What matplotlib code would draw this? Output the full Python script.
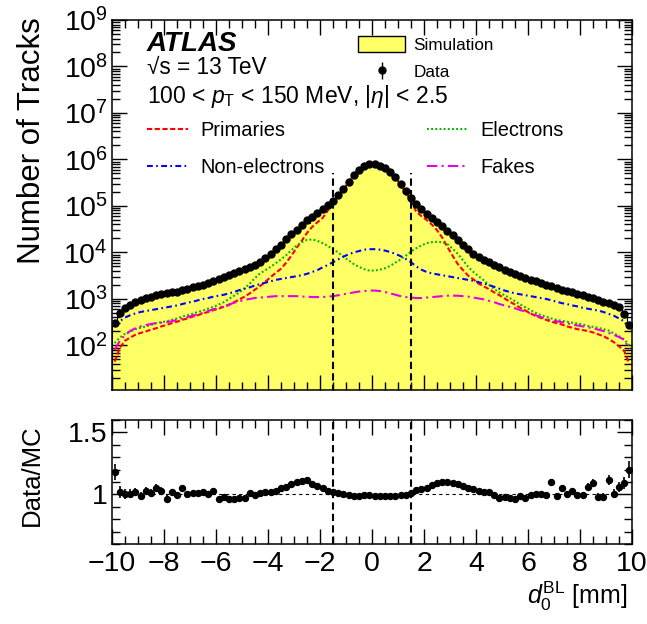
import numpy as np
import matplotlib
matplotlib.use('Agg')
import matplotlib.pyplot as plt
from matplotlib.patches import Patch
from matplotlib.ticker import MultipleLocator, LogLocator, NullFormatter, FuncFormatter

plt.rcParams['font.family'] = ['Liberation Sans', 'DejaVu Sans']
plt.rcParams['mathtext.fontset'] = 'custom'
plt.rcParams['mathtext.rm'] = 'Liberation Sans'
plt.rcParams['mathtext.it'] = 'Liberation Sans:italic'
plt.rcParams['mathtext.bf'] = 'Liberation Sans:bold'

# bins: 100 bins of 0.2 mm between -10 and 10
edges = np.linspace(-10, 10, 101)
centers = 0.5 * (edges[:-1] + edges[1:])

# log10(number of tracks) per bin
data_log = [2.48, 2.70, 2.80, 2.87, 2.93, 2.97, 3.01, 3.04, 3.08, 3.10,
            3.12, 3.14, 3.16, 3.19, 3.22, 3.25, 3.28, 3.31, 3.35, 3.39,
            3.43, 3.47, 3.51, 3.55, 3.60, 3.64, 3.68, 3.72, 3.79, 3.88,
            3.97, 4.07, 4.17, 4.28, 4.39, 4.48, 4.58, 4.69, 4.77, 4.85,
            4.93, 5.01, 5.11, 5.23, 5.37, 5.52, 5.67, 5.78, 5.86, 5.91,
            5.91, 5.87, 5.82, 5.74, 5.62, 5.47, 5.32, 5.17, 5.05, 4.93,
            4.83, 4.74, 4.65, 4.56, 4.47, 4.37, 4.27, 4.17, 4.07, 3.97,
            3.90, 3.84, 3.79, 3.74, 3.68, 3.62, 3.57, 3.53, 3.49, 3.45,
            3.41, 3.38, 3.35, 3.31, 3.27, 3.23, 3.20, 3.17, 3.14, 3.11,
            3.08, 3.04, 3.01, 2.97, 2.94, 2.91, 2.88, 2.82, 2.68, 2.45]

prim_log = [1.65, 1.95, 2.10, 2.17, 2.23, 2.27, 2.30, 2.34, 2.37, 2.41,
            2.44, 2.48, 2.51, 2.55, 2.58, 2.62, 2.65, 2.69, 2.72, 2.76,
            2.79, 2.83, 2.87, 2.93, 2.99, 3.05, 3.12, 3.20, 3.28, 3.37,
            3.47, 3.56, 3.65, 3.78, 3.93, 4.10, 4.25, 4.42, 4.55, 4.65,
            4.74, 4.90, 5.08, 5.22, 5.36, 5.51, 5.66, 5.77, 5.85, 5.90,
            5.90, 5.86, 5.81, 5.73, 5.61, 5.45, 5.29, 5.10, 4.88, 4.78,
            4.70, 4.60, 4.48, 4.32, 4.12, 3.93, 3.75, 3.62, 3.50, 3.42,
            3.33, 3.27, 3.21, 3.14, 3.08, 3.01, 2.94, 2.88, 2.81, 2.75,
            2.69, 2.63, 2.59, 2.55, 2.51, 2.48, 2.45, 2.41, 2.38, 2.35,
            2.33, 2.31, 2.28, 2.24, 2.20, 2.14, 2.07, 1.98, 1.88, 1.60]

elec_log = [2.05, 2.17, 2.25, 2.30, 2.35, 2.38, 2.41, 2.44, 2.48, 2.50,
            2.52, 2.55, 2.58, 2.62, 2.65, 2.68, 2.72, 2.75, 2.79, 2.83,
            2.88, 2.93, 3.00, 3.07, 3.14, 3.23, 3.33, 3.45, 3.55, 3.62,
            3.69, 3.77, 3.85, 3.94, 4.05, 4.15, 4.22, 4.27, 4.28, 4.25,
            4.20, 4.14, 4.07, 4.00, 3.91, 3.83, 3.75, 3.69, 3.64, 3.61,
            3.61, 3.63, 3.66, 3.71, 3.78, 3.85, 3.93, 4.02, 4.09, 4.15,
            4.20, 4.22, 4.23, 4.22, 4.18, 4.08, 3.97, 3.83, 3.69, 3.58,
            3.49, 3.40, 3.30, 3.21, 3.14, 3.08, 3.02, 2.95, 2.88, 2.82,
            2.76, 2.70, 2.65, 2.62, 2.58, 2.55, 2.53, 2.51, 2.49, 2.47,
            2.45, 2.42, 2.40, 2.38, 2.35, 2.32, 2.26, 2.20, 2.13, 2.00]

nonel_log = [2.40, 2.52, 2.60, 2.65, 2.69, 2.72, 2.74, 2.76, 2.78, 2.80,
             2.82, 2.84, 2.86, 2.89, 2.92, 2.94, 2.97, 3.00, 3.02, 3.05,
             3.07, 3.09, 3.12, 3.15, 3.19, 3.22, 3.25, 3.29, 3.32, 3.35,
             3.38, 3.41, 3.43, 3.45, 3.47, 3.49, 3.51, 3.54, 3.58, 3.62,
             3.68, 3.73, 3.79, 3.85, 3.91, 3.96, 4.00, 4.03, 4.06, 4.07,
             4.07, 4.06, 4.04, 4.01, 3.97, 3.92, 3.86, 3.79, 3.70, 3.63,
             3.58, 3.55, 3.53, 3.51, 3.49, 3.47, 3.45, 3.43, 3.41, 3.39,
             3.36, 3.33, 3.30, 3.26, 3.22, 3.18, 3.15, 3.12, 3.10, 3.08,
             3.06, 3.04, 3.02, 3.00, 2.97, 2.94, 2.91, 2.89, 2.86, 2.84,
             2.81, 2.79, 2.77, 2.75, 2.72, 2.68, 2.64, 2.58, 2.52, 2.42]

fakes_log = [1.90, 2.10, 2.22, 2.31, 2.37, 2.41, 2.44, 2.46, 2.48, 2.49,
             2.50, 2.52, 2.55, 2.58, 2.61, 2.64, 2.67, 2.70, 2.74, 2.78,
             2.81, 2.85, 2.88, 2.92, 2.95, 2.98, 3.00, 3.02, 3.03, 3.04,
             3.05, 3.06, 3.06, 3.06, 3.06, 3.06, 3.05, 3.05, 3.04, 3.04,
             3.04, 3.05, 3.06, 3.08, 3.10, 3.12, 3.14, 3.16, 3.17, 3.18,
             3.18, 3.17, 3.15, 3.12, 3.09, 3.06, 3.04, 3.03, 3.02, 3.02,
             3.03, 3.04, 3.05, 3.06, 3.07, 3.07, 3.07, 3.06, 3.05, 3.03,
             3.01, 2.99, 2.96, 2.93, 2.89, 2.86, 2.83, 2.80, 2.76, 2.73,
             2.69, 2.65, 2.61, 2.57, 2.54, 2.52, 2.50, 2.48, 2.45, 2.43,
             2.41, 2.39, 2.37, 2.34, 2.31, 2.27, 2.23, 2.18, 2.12, 1.92]

# Data/MC ratio per bin
ratio = [1.180, 1.020, 1.005, 1.005, 1.020, 0.990, 1.030, 1.013, 1.053, 1.027,
         0.965, 1.019, 0.995, 1.053, 1.005, 1.013, 1.013, 1.019, 1.003, 1.027,
         0.960, 0.980, 0.960, 0.965, 0.970, 0.970, 1.008, 0.992, 1.008, 1.019,
         1.021, 1.027, 1.048, 1.061, 1.080, 1.096, 1.109, 1.114, 1.085, 1.066,
         1.048, 1.027, 1.019, 1.008, 1.000, 0.992, 0.987, 0.990, 0.992, 0.995,
         0.990, 0.990, 0.990, 0.987, 0.990, 0.992, 0.995, 1.008, 1.037, 1.045,
         1.053, 1.074, 1.088, 1.100, 1.100, 1.088, 1.085, 1.066, 1.053, 1.040,
         1.027, 1.019, 1.016, 0.995, 0.971, 0.979, 0.973, 0.965, 0.984, 0.973,
         0.995, 1.005, 1.005, 0.992, 1.100, 0.987, 1.053, 1.000, 1.027, 0.992,
         0.992, 1.061, 1.090, 0.979, 0.979, 1.117, 1.005, 1.061, 1.093, 1.200]

d0_cut = 1.5

data = 10 ** np.array(data_log)
ratio = np.array(ratio)
sim = data / ratio
prim = 10 ** np.array(prim_log)
elec = 10 ** np.array(elec_log)
nonel = 10 ** np.array(nonel_log)
fakes = 10 ** np.array(fakes_log)
data_err = np.sqrt(data)

W, H = 647, 624
fig = plt.figure(figsize=(W / 100, H / 100), dpi=100)
ax = fig.add_axes([112 / W, 1 - 390 / H, 520 / W, 370 / H])
rax = fig.add_axes([112 / W, 1 - 544 / H, 520 / W, 124 / H])

yellow = '#ffff66'

# simulation histogram
ax.stairs(sim, edges, baseline=1, fill=True, color=yellow, zorder=1)
ax.stairs(sim, edges, baseline=1, color='black', lw=0.8, zorder=1.5)

# components
l_prim, = ax.plot(centers, prim, color='#ff0000', lw=1.5, ls=(0, (2.5, 1.2)), zorder=3)
l_elec, = ax.plot(centers, elec, color='#00b400', lw=1.5, ls=(0, (0.9, 1.1)), zorder=3)
l_nonel, = ax.plot(centers, nonel, color='#0000ff', lw=1.5, ls=(0, (2.8, 1.6, 0.8, 1.6)), zorder=3)
l_fakes, = ax.plot(centers, fakes, color='#e600e6', lw=1.5, ls=(0, (5, 2, 1, 2)), zorder=3)

# data
h_data = ax.errorbar(centers, data, yerr=data_err, fmt='o', color='black', ms=5,
                     elinewidth=1, capsize=0, zorder=5)

ax.vlines([-d0_cut, d0_cut], 10, 5e5, colors='black', lw=1.5,
          linestyles=[(0, (3.5, 2))], zorder=4)

ax.set_xlim(-10, 10)
ax.set_yscale('log')
ax.set_ylim(11, 1e9)
ax.xaxis.set_major_locator(MultipleLocator(2))
ax.xaxis.set_minor_locator(MultipleLocator(0.5))
ax.yaxis.set_major_locator(LogLocator(base=10, numticks=20))
ax.yaxis.set_minor_locator(LogLocator(base=10, subs=np.arange(2, 10), numticks=20))
ax.yaxis.set_minor_formatter(NullFormatter())
ax.tick_params(labelbottom=False)

# ratio panel
rax.errorbar(centers, ratio, yerr=ratio / np.sqrt(data), fmt='o', color='black', ms=4.3,
             elinewidth=1.2, capsize=0, zorder=5)
rax.axhline(1, color='black', lw=0.8, ls=(0, (3, 3)), zorder=2)
for c in (-d0_cut, d0_cut):
    rax.axvline(c, color='black', lw=1.5, ls=(0, (3.5, 2)), zorder=2)
rax.set_xlim(-10, 10)
rax.set_ylim(0.6, 1.6)
rax.xaxis.set_major_locator(MultipleLocator(2))
rax.xaxis.set_minor_locator(MultipleLocator(0.5))
rax.yaxis.set_major_locator(MultipleLocator(0.5))
rax.yaxis.set_minor_locator(MultipleLocator(0.1))
rax.yaxis.set_major_formatter(FuncFormatter(lambda v, p: '%g' % v))
rax.xaxis.set_major_formatter(FuncFormatter(lambda v, p: ('%g' % v).replace('-', '\u2212')))

for a in (ax, rax):
    a.tick_params(which='both', direction='in', top=True, right=True, width=1,
                  labelsize=20.5)
    a.tick_params(which='major', length=11)
    a.tick_params(which='minor', length=5.5)
    for s in a.spines.values():
        s.set_linewidth(1.1)
ax.tick_params(axis='y', pad=3)
rax.tick_params(axis='y', pad=3)
rax.tick_params(axis='x', pad=5)

# axis titles
fig.text(32 / W, 1 - 17 / H, 'Number of Tracks', rotation=90, ha='center', va='top', fontsize=22.5)
fig.text(32 / W, 1 - 424 / H, 'Data/MC', rotation=90, ha='center', va='top', fontsize=18.5)
fig.text(628 / W, 1 - 604 / H, r'$d_0^{\mathrm{BL}}$ [mm]', ha='right', va='baseline', fontsize=18)

# labels
fig.text(147 / W, 1 - 51 / H, 'ATLAS', fontsize=20, fontweight='bold', fontstyle='italic',
         va='baseline')
fig.text(147 / W, 1 - 74 / H, '\u221as = 13 TeV', fontsize=16.3, va='baseline')
fig.text(147 / W, 1 - 103 / H, r'100 < $p_{\mathrm{T}}$ < 150 MeV, |$\eta$| < 2.5',
         fontsize=16.5, va='baseline')

# legends
h_sim = Patch(facecolor=yellow, edgecolor='black', lw=1)
leg1 = ax.legend([h_sim, h_data], ['Simulation', 'Data'], loc='upper left',
                 bbox_to_anchor=(0.473, 0.958), frameon=False, fontsize=12.3,
                 handlelength=2.76, handleheight=1.12, handletextpad=0.47,
                 labelspacing=0.62, borderpad=0, borderaxespad=0)
ax.add_artist(leg1)
leg2 = ax.legend([l_prim, l_nonel], ['Primaries', 'Non-electrons'], loc='upper left',
                 bbox_to_anchor=(0.0673, 0.7257), frameon=False, fontsize=14.4,
                 handlelength=2.05, handletextpad=0.6, labelspacing=0.87,
                 borderpad=0, borderaxespad=0)
ax.add_artist(leg2)
ax.legend([l_elec, l_fakes], ['Electrons', 'Fakes'], loc='upper left',
          bbox_to_anchor=(0.6058, 0.7257), frameon=False, fontsize=14.4,
          handlelength=2.05, handletextpad=0.6, labelspacing=0.87,
          borderpad=0, borderaxespad=0)

fig.savefig('out.png', dpi=100)
